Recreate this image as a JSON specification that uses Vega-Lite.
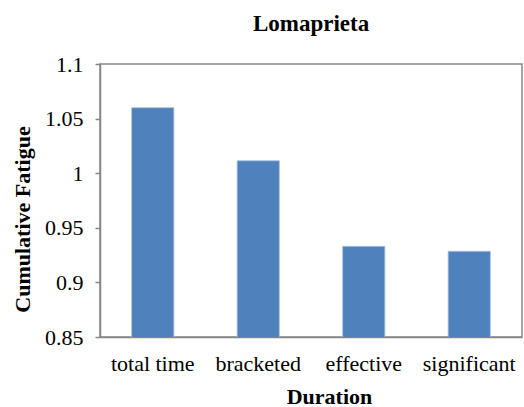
{
  "$schema": "https://vega.github.io/schema/vega-lite/v6.json",
  "width": 422,
  "height": 273,
  "autosize": {"type": "none"},
  "padding": {"left": 100, "top": 64, "right": 2, "bottom": 70},
  "background": "white",
  "title": {
    "text": "Lomaprieta",
    "font": "Liberation Serif",
    "fontSize": 23,
    "fontWeight": "bold",
    "color": "black",
    "anchor": "middle",
    "offset": 17
  },
  "config": {
    "view": {"stroke": "#868686", "strokeWidth": 1.5},
    "axis": {"grid": false}
  },
  "data": {
    "values": [
      {"Duration": "total time", "Fatigue": 1.06},
      {"Duration": "bracketed", "Fatigue": 1.0114},
      {"Duration": "effective", "Fatigue": 0.933},
      {"Duration": "significant", "Fatigue": 0.9285}
    ]
  },
  "mark": {"type": "bar", "color": "#4F81BD", "stroke": "#A8C0E0", "strokeWidth": 0.8, "clip": true},
  "encoding": {
    "x": {
      "field": "Duration",
      "type": "nominal",
      "sort": null,
      "scale": {"paddingInner": 0.6, "paddingOuter": 0.3},
      "axis": {
        "title": "Duration",
        "titleFont": "Liberation Serif",
        "titleFontSize": 22,
        "titleFontWeight": "bold",
        "titleColor": "black",
        "titlePadding": 12,
        "titleX": 229,
        "labelFont": "Liberation Serif",
        "labelFontSize": 22,
        "labelColor": "black",
        "labelAngle": 0,
        "labelPadding": 16,
        "ticks": false,
        "domainColor": "#868686",
        "domainWidth": 1.5
      }
    },
    "y": {
      "field": "Fatigue",
      "type": "quantitative",
      "scale": {"domain": [0.85, 1.1], "zero": false, "nice": false},
      "axis": {
        "title": "Cumulative Fatigue",
        "titleFont": "Liberation Serif",
        "titleFontSize": 22,
        "titleFontWeight": "bold",
        "titleColor": "black",
        "titlePadding": 10,
        "titleY": 155,
        "labelFont": "Liberation Serif",
        "labelFontSize": 22,
        "labelColor": "black",
        "labelPadding": 12,
        "format": "~g",
        "values": [0.85, 0.9, 0.95, 1, 1.05, 1.1],
        "tickColor": "#868686",
        "tickSize": 5,
        "tickWidth": 1.5,
        "domainColor": "#868686",
        "domainWidth": 1.5
      }
    }
  }
}
